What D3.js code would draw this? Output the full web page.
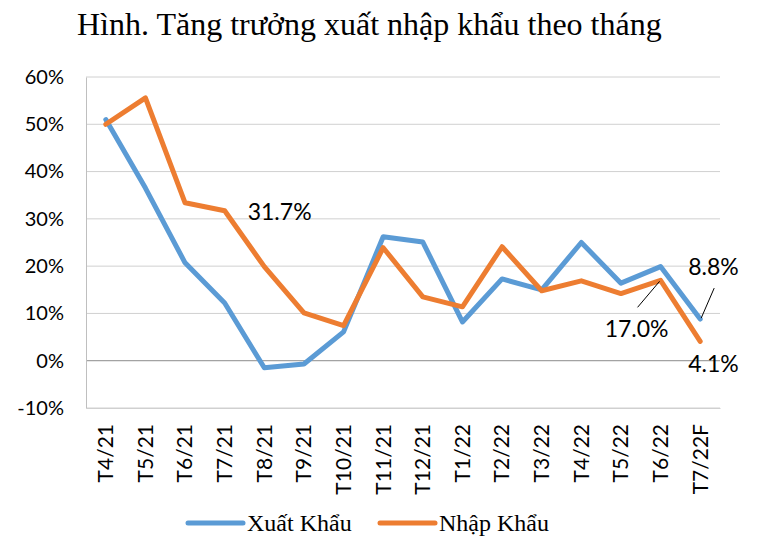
<!DOCTYPE html>
<html lang="vi">
<head>
<meta charset="UTF-8">
<script src="https://d3js.org/d3.v7.min.js"></script>
<style>
    body { margin: 0; background: #fff; }
    .tick text { font-family: Lato, "Open Sans", sans-serif; font-size: 20px; fill: #000; }
    .serif { font-family: "Liberation Serif", "Times New Roman", serif; fill: #000; }
    .lbl { font-family: Lato, "Open Sans", sans-serif; font-size: 23px; fill: #000; }
</style>
</head>
<body>
<svg id="chart" width="759" height="537"></svg>
<script>
// months on the x axis
const months = ["T4/21", "T5/21", "T6/21", "T7/21", "T8/21", "T9/21", "T10/21", "T11/21",
                "T12/21", "T1/22", "T2/22", "T3/22", "T4/22", "T5/22", "T6/22", "T7/22F"];
// growth in %
const xuatKhau = [51.0, 36.5, 20.7, 12.2, -1.5, -0.7, 6.1, 26.2, 25.1, 8.2, 17.3, 15.0, 25.0, 16.4, 19.9, 8.8];
const nhapKhau = [50.0, 55.6, 33.4, 31.7, 19.9, 10.1, 7.4, 23.9, 13.5, 11.4, 24.1, 14.8, 16.9, 14.2, 17.0, 4.1];
const yTicks = [-10, 0, 10, 20, 30, 40, 50, 60];

const svg = d3.select("#chart");
const margin = { top: 77, right: 39, bottom: 129, left: 86 };
const width = 759 - margin.left - margin.right;
const height = 537 - margin.top - margin.bottom;

const g = svg.append("g").attr("transform", "translate(" + margin.left + "," + margin.top + ")");

const x = d3.scaleBand().domain(months).range([0, width]);
const y = d3.scaleLinear().domain([-10, 60]).range([height, 0]);
const xc = d => x(d) + x.bandwidth() / 2;

// title
svg.append("text")
    .attr("class", "serif")
    .attr("x", 77).attr("y", 35)
    .style("font-size", "32px")
    .text("Hình. Tăng trưởng xuất nhập khẩu theo tháng");

// gridlines
g.selectAll(".grid")
    .data(yTicks)
    .enter().append("line")
    .attr("x1", 0).attr("x2", width)
    .attr("y1", d => y(d)).attr("y2", d => y(d))
    .attr("stroke", d => d === 0 ? "#8c8c8c" : "#d0d0d0")
    .attr("stroke-width", 1);

// y axis
const yAxis = g.append("g")
    .call(d3.axisLeft(y).tickValues(yTicks).tickSize(0).tickPadding(22).tickFormat(d => d + "%"));
yAxis.select(".domain").attr("stroke", "#bfbfbf");

// x axis labels, rotated
const xAxis = g.append("g")
    .attr("transform", "translate(0," + height + ")")
    .call(d3.axisBottom(x).tickSize(0));
xAxis.select(".domain").attr("stroke", "#d0d0d0");
xAxis.selectAll(".tick text")
    .style("font-size", "21px")
    .attr("transform", "rotate(-90)")
    .attr("x", -16).attr("y", 0).attr("dy", "0.35em")
    .style("text-anchor", "end");

const line = d3.line().x((d, i) => xc(months[i])).y(d => y(d));

g.append("path").datum(xuatKhau)
    .attr("fill", "none").attr("stroke", "#5B9BD5")
    .attr("stroke-width", 5).attr("stroke-linejoin", "round").attr("stroke-linecap", "round")
    .attr("d", line);

g.append("path").datum(nhapKhau)
    .attr("fill", "none").attr("stroke", "#ED7D31")
    .attr("stroke-width", 5).attr("stroke-linejoin", "round").attr("stroke-linecap", "round")
    .attr("d", line);

// data labels
const fmt = v => v.toFixed(1) + "%";
g.append("text").attr("class", "lbl")
    .attr("x", xc("T7/21") + 23).attr("y", y(31.7) + 9)
    .text(fmt(nhapKhau[3]));

g.append("text").attr("class", "lbl")
    .attr("x", xc("T6/22") + 8).attr("y", y(17.0) + 57)
    .style("text-anchor", "end")
    .text(fmt(nhapKhau[14]));
g.append("line")
    .attr("x1", xc("T6/22") - 23).attr("y1", y(17.0) + 27)
    .attr("x2", xc("T6/22") - 1).attr("y2", y(17.0) + 1)
    .attr("stroke", "#000").attr("stroke-width", 1);

g.append("text").attr("class", "lbl")
    .attr("x", xc("T7/22F") - 12).attr("y", y(8.8) - 44)
    .text(fmt(xuatKhau[15]));
g.append("line")
    .attr("x1", xc("T7/22F") + 14).attr("y1", y(8.8) - 31)
    .attr("x2", xc("T7/22F") + 1).attr("y2", y(8.8) - 1)
    .attr("stroke", "#000").attr("stroke-width", 1);

g.append("text").attr("class", "lbl")
    .attr("x", xc("T7/22F") - 12).attr("y", y(4.1) + 31)
    .text(fmt(nhapKhau[15]));

// legend
const legend = svg.append("g").attr("transform", "translate(188,523)");
const items = [["Xuất Khẩu", "#5B9BD5", 0], ["Nhập Khẩu", "#ED7D31", 192]];
items.forEach(function(it) {
    legend.append("line")
        .attr("x1", it[2]).attr("x2", it[2] + 55)
        .attr("y1", 0).attr("y2", 0)
        .attr("stroke", it[1]).attr("stroke-width", 5).attr("stroke-linecap", "round");
    legend.append("text").attr("class", "serif")
        .attr("x", it[2] + 59).attr("y", 8)
        .style("font-size", "24px")
        .text(it[0]);
});
</script>
</body>
</html>
